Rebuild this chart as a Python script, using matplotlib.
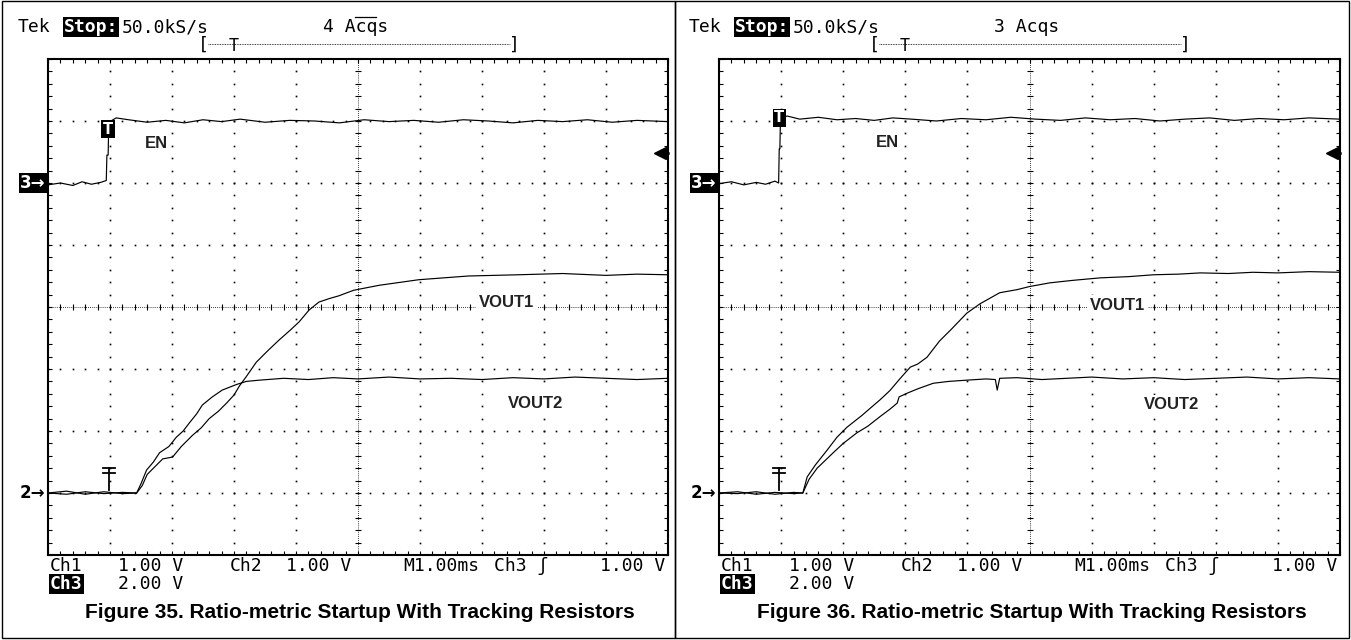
import matplotlib
matplotlib.use("Agg")
import matplotlib.pyplot as plt
from matplotlib.lines import Line2D
from matplotlib.patches import Rectangle
import numpy as np

# figure size in pixels
W, H = 1351, 640

# ---- trace data, in scope divisions (x: 0..10, y: -4..4, centre line = 0) ----
# Figure 35 (4 acqs)
en35_t = [0, 0.2, 0.4, 0.55, 0.7, 0.85, 0.94, 0.95, 0.97, 0.98,
          1.1, 1.3, 1.6, 1.9, 2.2, 2.5, 2.8, 3.1, 3.5, 3.9,
          4.3, 4.7, 5.1, 5.5, 5.9, 6.3, 6.7, 7.1, 7.5, 7.9,
          8.3, 8.7, 9.1, 9.5, 10.0]
en35_v = [1.97, 2.0, 1.96, 2.02, 1.98, 2.01, 2.04, 2.45, 2.45, 2.98,
          3.05, 3.02, 2.98, 3.01, 2.97, 3.02, 2.99, 3.03, 2.98, 3.01,
          3.0, 2.97, 3.02, 2.99, 3.01, 2.98, 3.02, 3.0, 2.97, 3.01,
          2.99, 3.02, 2.98, 3.01, 2.99]

vout1_35_t = [0, 0.3, 0.6, 0.9, 1.2, 1.43, 1.52, 1.6, 1.72, 1.85,
              2.01, 2.15, 2.33, 2.47, 2.6, 2.75, 2.88, 3.0, 3.09, 3.2,
              3.36, 3.55, 3.73, 3.9, 4.05, 4.21, 4.37, 4.55, 4.69, 4.93,
              5.34, 5.98, 6.78, 7.59, 8.3, 9.0, 9.5, 10.0]
vout1_35_v = [-3.0, -3.02, -2.98, -3.01, -2.99, -3.0, -2.88, -2.7, -2.58, -2.45,
              -2.42, -2.25, -2.07, -1.95, -1.8, -1.68, -1.55, -1.42, -1.27, -1.12,
              -0.89, -0.7, -0.53, -0.38, -0.24, -0.05, 0.08, 0.14, 0.18, 0.27,
              0.35, 0.44, 0.5, 0.52, 0.54, 0.51, 0.53, 0.52]

vout2_35_t = [0, 0.3, 0.6, 0.9, 1.2, 1.43, 1.5, 1.59, 1.7, 1.8,
              1.95, 2.07, 2.18, 2.28, 2.4, 2.49, 2.65, 2.81, 3.04, 3.2,
              3.41, 3.8, 4.2, 4.6, 5.0, 5.5, 6.0, 6.5, 7.0, 7.5,
              8.0, 8.5, 9.0, 9.5, 10.0]
vout2_35_v = [-3.0, -2.97, -3.02, -2.98, -3.01, -3.0, -2.85, -2.63, -2.5, -2.35,
              -2.25, -2.1, -2.0, -1.87, -1.72, -1.58, -1.45, -1.34, -1.25, -1.2,
              -1.18, -1.15, -1.17, -1.14, -1.16, -1.13, -1.16, -1.15, -1.17, -1.14,
              -1.16, -1.13, -1.15, -1.17, -1.15]

# Figure 36 (3 acqs)
en36_t = [0, 0.2, 0.4, 0.6, 0.75, 0.9, 0.96, 0.97, 0.98, 0.99,
          1.1, 1.3, 1.6, 1.9, 2.2, 2.5, 2.8, 3.1, 3.5, 3.9,
          4.3, 4.7, 5.1, 5.5, 5.9, 6.3, 6.7, 7.1, 7.5, 7.9,
          8.3, 8.7, 9.1, 9.5, 10.0]
en36_v = [1.99, 2.02, 1.97, 2.01, 1.98, 2.03, 2.0, 2.55, 2.55, 3.05,
          3.08, 3.03, 3.06, 3.02, 3.04, 3.01, 3.05, 3.03, 3.0, 3.04,
          3.02, 3.06, 3.03, 3.01, 3.05, 3.02, 3.04, 3.0, 3.03, 3.05,
          3.01, 3.04, 3.02, 3.05, 3.03]

vout1_36_t = [0, 0.3, 0.6, 0.9, 1.2, 1.35, 1.42, 1.55, 1.74, 1.9,
              2.06, 2.3, 2.45, 2.59, 2.75, 2.92, 3.08, 3.2, 3.35, 3.55,
              3.75, 3.99, 4.2, 4.52, 4.8, 5.0, 5.33, 5.7, 6.14, 6.6,
              7.0, 7.4, 7.75, 8.2, 8.6, 9.0, 9.5, 10.0]
vout1_36_v = [-3.0, -2.98, -3.02, -2.99, -3.01, -3.0, -2.74, -2.55, -2.31, -2.1,
              -1.94, -1.75, -1.62, -1.5, -1.35, -1.15, -0.97, -0.92, -0.81, -0.55,
              -0.35, -0.1, 0.05, 0.23, 0.28, 0.33, 0.39, 0.43, 0.47, 0.49,
              0.52, 0.53, 0.55, 0.54, 0.56, 0.55, 0.57, 0.56]

vout2_36_t = [0, 0.3, 0.6, 0.9, 1.2, 1.35, 1.45, 1.58, 1.84, 2.0,
              2.22, 2.4, 2.59, 2.75, 2.87, 2.9, 3.03, 3.2, 3.45, 3.7,
              3.99, 4.3, 4.45, 4.48, 4.52, 4.8, 5.2, 5.6, 6.0, 6.5,
              7.0, 7.5, 8.0, 8.5, 9.0, 9.5, 10.0]
vout2_36_v = [-3.0, -3.01, -2.98, -3.02, -2.99, -3.0, -2.78, -2.6, -2.35, -2.2,
              -2.03, -1.92, -1.77, -1.65, -1.55, -1.45, -1.39, -1.32, -1.23, -1.2,
              -1.18, -1.16, -1.17, -1.34, -1.15, -1.14, -1.17, -1.15, -1.13, -1.16,
              -1.14, -1.17, -1.15, -1.13, -1.16, -1.14, -1.16]

# channel grounds / trigger settings (divisions)
ch3_ground = 2.0
ch2_ground = -3.0
trig_level = 2.48

# panel texts
fig_numbers = [35, 36]
acq_counts = ["4 Acqs", "3 Acqs"]
caption = "Figure {}. Ratio-metric Startup With Tracking Resistors"
bottom_row1 = ["Ch1", "1.00 V", "Ch2", "1.00 V", "M1.00ms", "Ch3 \u0283", "1.00 V"]

TEK = ["DejaVu Sans Mono", "DejaVu Sans"]
ARIAL = "Liberation Sans"
TEK_SIZE = 13


def fx(x):
    return x / W


def fy(y):
    return 1 - y / H


fig = plt.figure(figsize=(W / 100, H / 100), dpi=100)
fig.patch.set_facecolor("white")


def draw_grid(ax):
    xs = np.linspace(0, 10, 51)
    ys = np.linspace(-4, 4, 41)
    # dotted graticule
    for gx in range(1, 10):
        if gx == 5:
            continue
        ax.plot([gx] * len(ys), ys, ls="none", marker="s", ms=1.2, color="k", mew=0)
    for gy in range(-3, 4):
        if gy == 0:
            continue
        ax.plot(xs, [gy] * len(xs), ls="none", marker="s", ms=1.2, color="k", mew=0)
    # centre lines with minor ticks
    ax.axhline(0, color="k", lw=0.6, ls=(0, (1, 1.5)))
    ax.axvline(5, color="k", lw=0.6, ls=(0, (1, 1.5)))
    ax.plot(xs, [0] * len(xs), ls="none", marker="|", ms=4, mew=0.8, color="k")
    ax.plot([5] * len(ys), ys, ls="none", marker="_", ms=4, mew=0.8, color="k")
    # border ticks
    ax.set_xticks(xs)
    ax.set_yticks(ys)
    ax.tick_params(direction="in", length=3, width=0.8, top=True, right=True,
                   labelbottom=False, labelleft=False)
    for sp in ax.spines.values():
        sp.set_linewidth(1.5)


def draw_panel(idx, x0, x1, en_t, en_v, v1_t, v1_v, v2_t, v2_v,
               en_lab, v1_lab, v2_lab, en_trig, ch2_trig):
    top, bot = 59, 555
    ax = fig.add_axes([fx(x0), fy(bot), fx(x1 - x0), (bot - top) / H])
    ax.set_xlim(0, 10)
    ax.set_ylim(-4, 4)
    draw_grid(ax)

    # traces
    ax.plot(en_t, en_v, color="k", lw=0.85)
    ax.plot(v2_t, v2_v, color="k", lw=0.85)
    ax.plot(v1_t, v1_v, color="k", lw=0.85)

    # trace labels
    lab_kw = dict(fontsize=12, fontweight="bold", family=ARIAL, ha="center",
                  va="center", color="#222222",
                  bbox=dict(facecolor="white", edgecolor="none", pad=2))
    ax.text(en_lab[0], en_lab[1], "EN", **lab_kw)
    ax.text(v1_lab[0], v1_lab[1], "VOUT1", **lab_kw)
    ax.text(v2_lab[0], v2_lab[1], "VOUT2", **lab_kw)

    # channel ground markers
    ax.text(-0.04, ch3_ground, "3\u2192", color="white", fontsize=12, fontweight="bold",
            family="DejaVu Sans", ha="right", va="center", clip_on=False,
            bbox=dict(facecolor="black", edgecolor="none", pad=1.0))
    ax.text(-0.04, ch2_ground, "2\u2192", color="black", fontsize=12, fontweight="bold",
            family="DejaVu Sans", ha="right", va="center", clip_on=False)

    # trigger marker on EN
    ax.text(en_trig[0], en_trig[1], "T", color="white", fontsize=10.5, fontweight="bold",
            family="DejaVu Sans", ha="center", va="center",
            bbox=dict(facecolor="black", edgecolor="none", pad=1.2))

    # trigger position marker on ch2
    tx, ty = ch2_trig
    ax.plot([tx - 0.1, tx + 0.1], [ty + 0.36, ty + 0.36], color="k", lw=1.3)
    ax.plot([tx - 0.1, tx + 0.1], [ty + 0.27, ty + 0.27], color="k", lw=1.3)
    ax.plot([tx, tx], [ty + 0.36, ty], color="k", lw=1.3)

    # trigger level arrow at right edge
    ax.plot([9.87], [trig_level], marker="<", ms=8, color="k", clip_on=False)
    ax.plot([9.87, 10], [trig_level, trig_level], color="k", lw=1.8, clip_on=False)

    # ---- header ----
    ty_ = 27
    fig.text(fx(x0 - 30), fy(ty_), "Tek", family=TEK, fontsize=TEK_SIZE, va="center")
    fig.text(fx(x0 + 16), fy(ty_), "Stop:", family=TEK, fontsize=TEK_SIZE, va="center",
             color="white", fontweight="bold",
             bbox=dict(facecolor="black", edgecolor="none", pad=0.8))
    fig.text(fx(x0 + 74), fy(ty_), "50.0kS/s", family=TEK, fontsize=TEK_SIZE, va="center")
    fig.text(fx(x0 + 275), fy(ty_), acq_counts[idx], family=TEK, fontsize=TEK_SIZE,
             va="center")
    if idx == 0:
        # averaging bar over "cq"
        fig.add_artist(Line2D([fx(x0 + 307), fx(x0 + 328)], [fy(17), fy(17)],
                              color="k", lw=0.9))

    by = 45
    fig.text(fx(x0 + 155), fy(by), "[", family=TEK, fontsize=TEK_SIZE, va="center",
             ha="center")
    fig.text(fx(x0 + 466), fy(by), "]", family=TEK, fontsize=TEK_SIZE, va="center",
             ha="center")
    fig.add_artist(Line2D([fx(x0 + 160), fx(x0 + 462)], [fy(by - 1), fy(by - 1)],
                          color="k", lw=0.6, ls=(0, (1, 1))))
    fig.text(fx(x0 + 186), fy(by + 1), "T", family=TEK, fontsize=12, va="center",
             ha="center")

    # ---- footer ----
    r1 = 566
    offs = [2, 70, 182, 238, 355, 446]
    for o, s in zip(offs, bottom_row1[:-1]):
        fig.text(fx(x0 + o), fy(r1), s, family=TEK, fontsize=TEK_SIZE, va="center")
    fig.text(fx(x1 - 3), fy(r1), bottom_row1[-1], family=TEK, fontsize=TEK_SIZE,
             va="center", ha="right")
    r2 = 584
    fig.text(fx(x0 + 2), fy(r2), "Ch3", family=TEK, fontsize=TEK_SIZE, va="center",
             color="white", fontweight="bold",
             bbox=dict(facecolor="black", edgecolor="none", pad=0.8))
    fig.text(fx(x0 + 70), fy(r2), "2.00 V", family=TEK, fontsize=TEK_SIZE, va="center")

    fig.text(fx((x0 + x1) / 2 + 2), fy(613), caption.format(fig_numbers[idx]),
             family=ARIAL, fontweight="bold", fontsize=15, ha="center", va="center")
    return ax


draw_panel(0, 48, 668, en35_t, en35_v, vout1_35_t, vout1_35_v, vout2_35_t, vout2_35_v,
           en_lab=(1.75, 2.63), v1_lab=(7.4, 0.08), v2_lab=(7.86, -1.55),
           en_trig=(0.97, 2.87), ch2_trig=(0.98, -2.95))
draw_panel(1, 719, 1340, en36_t, en36_v, vout1_36_t, vout1_36_v, vout2_36_t, vout2_36_v,
           en_lab=(2.72, 2.65), v1_lab=(6.41, 0.03), v2_lab=(7.29, -1.58),
           en_trig=(0.97, 3.05), ch2_trig=(0.97, -2.95))

# outer panel frames
for bx0, bx1 in [(2, 675), (675, 1349)]:
    fig.add_artist(Rectangle((fx(bx0), fy(638)), fx(bx1 - bx0), (638 - 1) / H,
                             transform=fig.transFigure, fill=False, lw=1.0,
                             edgecolor="black"))

fig.savefig("out.png", dpi=100)
